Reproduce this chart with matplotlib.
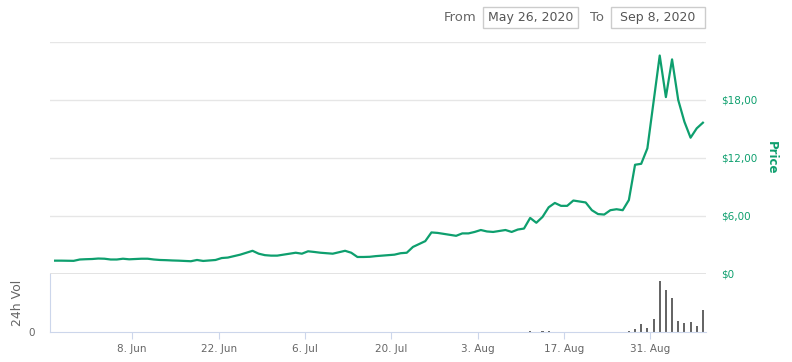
import numpy as np
import pandas as pd
import matplotlib
matplotlib.use("Agg")
import matplotlib.pyplot as plt
import matplotlib.dates as mdates
from matplotlib.patches import Rectangle

# daily price in USD, May 26 - Sep 8 2020
price = [1.38, 1.38, 1.37, 1.36, 1.50, 1.53, 1.55, 1.60, 1.58, 1.50,
         1.50, 1.58, 1.52, 1.55, 1.58, 1.58, 1.50, 1.45, 1.43, 1.40,
         1.38, 1.35, 1.32, 1.45, 1.35, 1.40, 1.45, 1.65, 1.70, 1.85,
         2.00, 2.20, 2.40, 2.10, 1.95, 1.90, 1.90, 2.00, 2.10, 2.20,
         2.10, 2.35, 2.28, 2.20, 2.15, 2.10, 2.25, 2.40, 2.20, 1.76,
         1.76, 1.78, 1.85, 1.90, 1.95, 2.00, 2.15, 2.20, 2.80, 3.10,
         3.40, 4.30, 4.25, 4.15, 4.05, 3.95, 4.20, 4.20, 4.35, 4.55,
         4.40, 4.35, 4.45, 4.55, 4.35, 4.60, 4.70, 5.80, 5.30, 5.90,
         6.90, 7.35, 7.05, 7.05, 7.60, 7.50, 7.40, 6.60, 6.20, 6.15,
         6.60, 6.70, 6.60, 7.65, 11.30, 11.40, 13.00, 17.80, 22.60, 18.30,
         22.20, 18.00, 15.75, 14.10, 15.07, 15.65]

# 24h volume (only days with visible bars), in millions
vol_dates = ["2020-08-11", "2020-08-13", "2020-08-14", "2020-08-27",
             "2020-08-28", "2020-08-29", "2020-08-30", "2020-08-31",
             "2020-09-01", "2020-09-02", "2020-09-03", "2020-09-04",
             "2020-09-05", "2020-09-06", "2020-09-07", "2020-09-08"]
volume = [0.7, 0.6, 0.6, 0.7, 2.7, 7.7, 3.7, 12.7,
          51.0, 42.0, 33.7, 11.0, 9.3, 10.0, 6.0, 22.0]

tick_dates = ["2020-06-08", "2020-06-22", "2020-07-06", "2020-07-20",
              "2020-08-03", "2020-08-17", "2020-08-31"]
tick_labels = ["8. Jun", "22. Jun", "6. Jul", "20. Jul", "3. Aug", "17. Aug", "31. Aug"]
price_ticks = [0, 6, 12, 18]
price_labels = ["$0", "$6,00", "$12,00", "$18,00"]

green = "#0e9f6e"
grey_txt = "#666666"
axis_col = "#ccd6eb"

dates = pd.date_range("2020-05-26 12:00", periods=len(price), freq="D")
vdates = pd.to_datetime(vol_dates) + pd.Timedelta(hours=12)
x0 = pd.Timestamp("2020-05-25 16:00")
x1 = pd.Timestamp("2020-09-09 00:00")

fig = plt.figure(figsize=(7.92, 3.62), dpi=100)

# price panel
ax = fig.add_axes([0.0631, 0.2431, 0.8283, 0.6409])
ax.plot(dates, price, color=green, lw=1.6, solid_joinstyle="round")
ax.set_xlim(x0, x1)
ax.set_ylim(0, 24)
for v in [6, 12, 18, 24]:
    ax.axhline(v, color="#e6e6e6", lw=1, zorder=0)
ax.axhline(0, color="#e0e0e0", lw=2, zorder=0)
for s in ax.spines.values():
    s.set_visible(False)
ax.set_xticks([])
ax.yaxis.tick_right()
ax.set_yticks(price_ticks)
ax.set_yticklabels(price_labels)
ax.tick_params(axis="y", length=0, pad=11, labelsize=7.5, labelcolor=green)
fig.text(0.974, 0.564, "Price", rotation=270, color=green, fontsize=8.5,
         fontweight="bold", ha="center", va="center")

# volume panel
axv = fig.add_axes([0.0631, 0.0829, 0.8283, 0.1602])
axv.bar(vdates, volume, width=0.33, color="#666666")
axv.set_xlim(x0, x1)
axv.set_ylim(0, 58)
for k in ["top", "right"]:
    axv.spines[k].set_visible(False)
axv.spines["left"].set_color(axis_col)
axv.spines["bottom"].set_color(axis_col)
axv.set_yticks([0])
axv.set_yticklabels(["0"])
axv.tick_params(axis="y", length=0, pad=11, labelsize=7.5, labelcolor=grey_txt)
axv.set_xticks(pd.to_datetime(tick_dates))
axv.set_xticklabels(tick_labels)
axv.tick_params(axis="x", length=5, color=axis_col, pad=4, labelsize=7.5,
                labelcolor=grey_txt)
fig.text(0.022, 0.163, "24h Vol", rotation=90, color=grey_txt, fontsize=9,
         ha="center", va="center")

# date range selector
fig.text(0.5808, 0.9517, "From", color=grey_txt, fontsize=9.5, ha="center", va="center")
fig.text(0.7538, 0.9517, "To", color=grey_txt, fontsize=9.5, ha="center", va="center")
fig.patches.append(Rectangle((0.6098, 0.9227), 0.12, 0.058, transform=fig.transFigure,
                             fill=False, edgecolor="#cccccc", lw=1))
fig.patches.append(Rectangle((0.7715, 0.9227), 0.1187, 0.058, transform=fig.transFigure,
                             fill=False, edgecolor="#cccccc", lw=1))
fig.text(0.6698, 0.9517, "May 26, 2020", color="#555555", fontsize=9, ha="center", va="center")
fig.text(0.8308, 0.9517, "Sep 8, 2020", color="#555555", fontsize=9, ha="center", va="center")

fig.savefig("out.png", dpi=100, facecolor="white")
